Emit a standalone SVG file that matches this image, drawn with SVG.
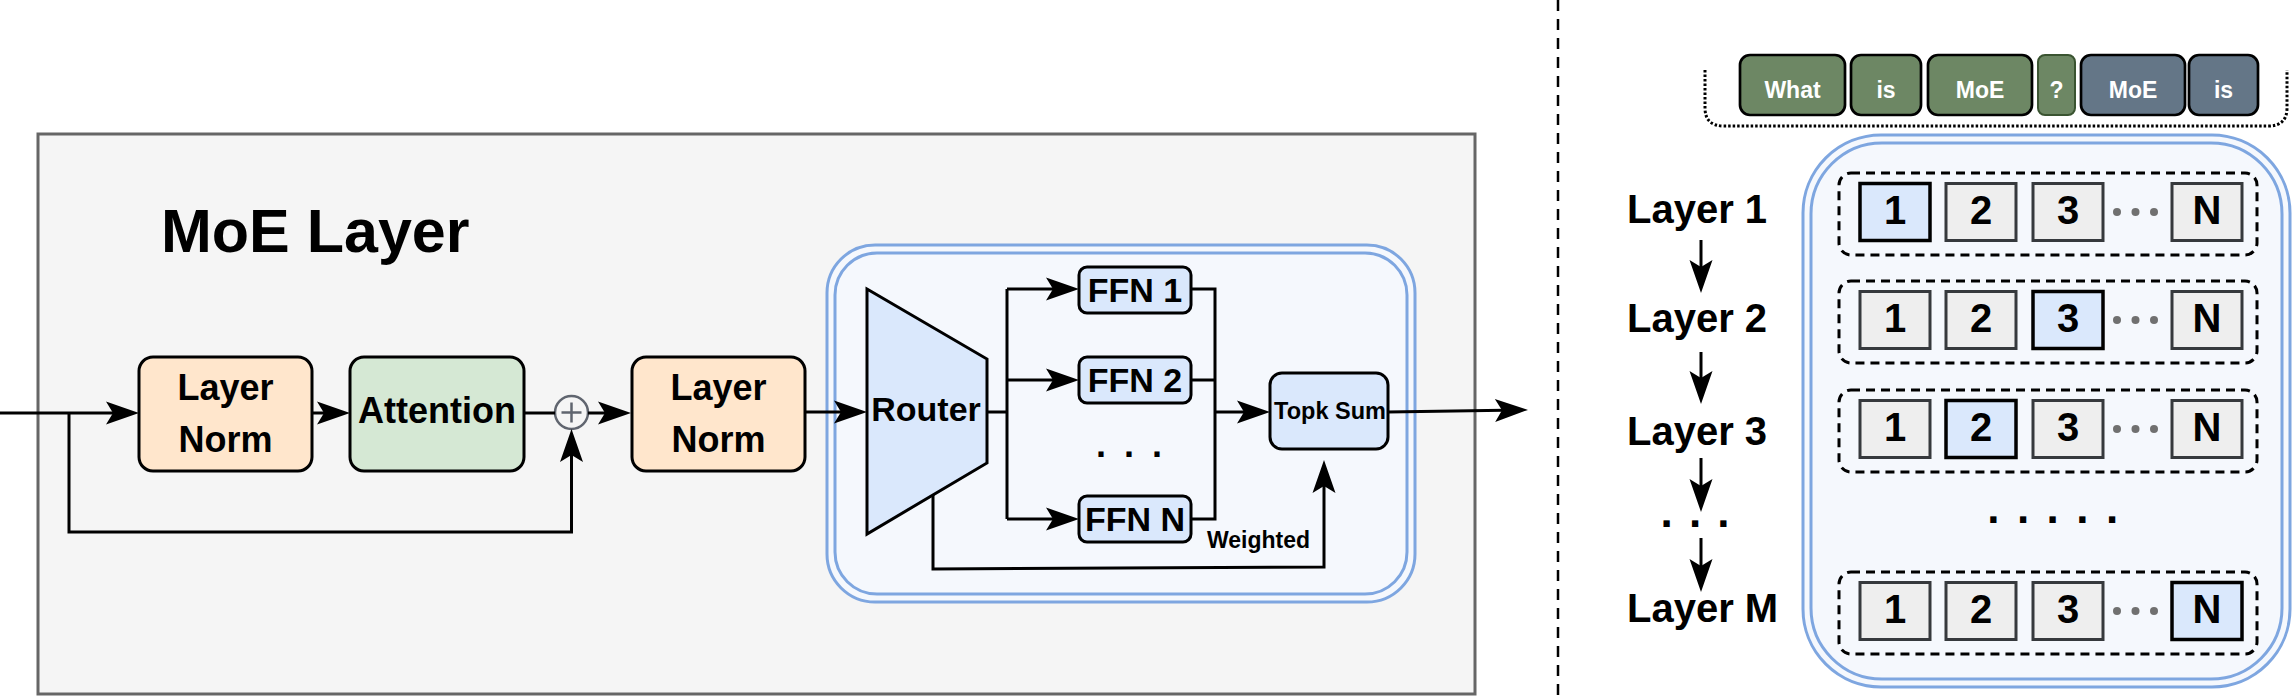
<svg xmlns="http://www.w3.org/2000/svg" width="2294" height="697" viewBox="0 0 2294 697">
<style>
text{font-family:"Liberation Sans",Arial,sans-serif;font-weight:bold;fill:#000}
.c{text-anchor:middle}
.box{stroke:#000;stroke-width:3}
.ln{fill:#ffe6cc}
.blue{fill:#dae8fc}
.wire{fill:none;stroke:#000;stroke-width:3}
.arr{marker-end:url(#ah)}
.dbl{fill:none;stroke:#7ea6e0;stroke-width:3}
.sq{fill:#eeeeee;stroke:#36393d;stroke-width:3}
.sqh{fill:#dae8fc;stroke:#000;stroke-width:3.5}
.row{fill:none;stroke:#000;stroke-width:3;stroke-dasharray:9 6}
.tok{stroke:#000;stroke-width:2.7}
.tt{fill:#fff;font-size:23px;text-anchor:middle}
.gd{fill:#707070}
.dig{font-size:40px;text-anchor:middle}
.lay{font-size:40px}
</style>
<defs>
<marker id="ah" markerUnits="userSpaceOnUse" markerWidth="34" markerHeight="24" refX="25" refY="11.5" orient="auto" overflow="visible">
<path d="M0,0 L33,11.5 L0,23 L7,11.5 Z" fill="#000"/>
</marker>
</defs>

<g id="moe-layer-frame">
<rect x="38" y="134" width="1437" height="560" fill="#f5f5f5" stroke="#666" stroke-width="3"/>
<text x="161" y="252" font-size="61">MoE Layer</text>
</g>

<g id="expert-container">
<rect x="827" y="245" width="588" height="357" rx="48" fill="#f5f8fd" stroke="none"/>
<rect class="dbl" x="827" y="245" width="588" height="357" rx="48"/>
<rect class="dbl" x="835" y="253" width="572" height="341" rx="42"/>
</g>

<g id="layernorm1">
<rect class="box ln" x="139" y="357" width="173" height="114" rx="14"/>
<text class="c" x="225.5" y="400" font-size="36">Layer</text>
<text class="c" x="225.5" y="452" font-size="36">Norm</text>
</g>

<g id="attention">
<rect class="box" fill="#d5e8d4" x="350" y="357" width="174" height="114" rx="14"/>
<text class="c" x="437" y="423" font-size="36">Attention</text>
</g>

<g id="add">
<circle cx="571.5" cy="412.5" r="16.5" fill="#f5f5f5" stroke="#60656f" stroke-width="2.5"/>
<path d="M571.5,402.5 V422.5 M561.5,412.5 H581.5" stroke="#60656f" stroke-width="2.5" fill="none"/>
</g>

<g id="layernorm2">
<rect class="box ln" x="632" y="357" width="173" height="114" rx="14"/>
<text class="c" x="718.5" y="400" font-size="36">Layer</text>
<text class="c" x="718.5" y="452" font-size="36">Norm</text>
</g>

<g id="router">
<path class="box blue" d="M867,289 L987,359 L987,463 L867,534 Z"/>
<text class="c" x="926" y="421" font-size="34">Router</text>
</g>

<g id="ffn1">
<rect class="box blue" x="1079" y="267" width="112" height="46" rx="8"/>
<text class="c" x="1135" y="302" font-size="34">FFN 1</text>
</g>
<g id="ffn2">
<rect class="box blue" x="1079" y="357" width="112" height="46" rx="8"/>
<text class="c" x="1135" y="392" font-size="34">FFN 2</text>
</g>
<g id="ffn-dots">
<text class="c" x="1131" y="457" font-size="36" letter-spacing="4">. . .</text>
</g>
<g id="ffnN">
<rect class="box blue" x="1079" y="496" width="112" height="46" rx="8"/>
<text class="c" x="1135" y="531" font-size="34">FFN N</text>
</g>

<g id="topk-sum">
<rect class="box blue" x="1270" y="373" width="118" height="76" rx="12"/>
<text class="c" x="1330" y="419" font-size="23.5">Topk Sum</text>
</g>

<g id="weighted-label">
<text x="1207" y="548" font-size="23">Weighted</text>
</g>

<g id="connectors">
<path class="wire arr" d="M0,413 H131"/>
<path class="wire arr" d="M69,413 V532 H571.5 V437"/>
<path class="wire arr" d="M312,413 H342"/>
<path class="wire" d="M524,413 H555"/>
<path class="wire arr" d="M588,413 H623"/>
<path class="wire arr" d="M805,412 H859"/>
<path class="wire" d="M987,412 H1007 M1007,289 V519"/>
<path class="wire arr" d="M1007,289 H1071"/>
<path class="wire arr" d="M1007,380 H1071"/>
<path class="wire arr" d="M1007,519 H1071"/>
<path class="wire" d="M1191,289 H1215 V519 H1191 M1191,380 H1215"/>
<path class="wire arr" d="M1215,412 H1262"/>
<path class="wire arr" d="M1388,412 L1520,410"/>
<path class="wire arr" d="M933,495 V569 L1324,567 V468"/>
</g>

<g id="separator">
<line x1="1558" y1="0" x2="1558" y2="697" stroke="#000" stroke-width="2.5" stroke-dasharray="11 8"/>
</g>

<g id="tokens">
<path d="M1705,70 V108 Q1705,126 1724,126 H2268 Q2287,126 2287,108 V70" fill="none" stroke="#000" stroke-width="3" stroke-dasharray="2.5 2"/>
<rect class="tok" fill="#6d8764" x="1740" y="55" width="105" height="60" rx="10"/>
<text class="tt" x="1792.5" y="98">What</text>
<rect class="tok" fill="#6d8764" x="1851" y="55" width="70" height="60" rx="10"/>
<text class="tt" x="1886" y="98">is</text>
<rect class="tok" fill="#6d8764" x="1928" y="55" width="104" height="60" rx="10"/>
<text class="tt" x="1980" y="98">MoE</text>
<rect fill="#6d8764" stroke="#3a5431" stroke-width="2" x="2038" y="55" width="37" height="60" rx="7"/>
<text class="tt" x="2056.5" y="98">?</text>
<rect class="tok" fill="#647687" x="2081" y="55" width="104" height="60" rx="10"/>
<text class="tt" x="2133" y="98">MoE</text>
<rect class="tok" fill="#647687" x="2189" y="55" width="69" height="60" rx="10"/>
<text class="tt" x="2223.5" y="98">is</text>
</g>

<g id="layer-container">
<rect x="1803" y="135" width="487" height="552" rx="78" fill="#f5f8fd" stroke="none"/>
<rect class="dbl" x="1803" y="135" width="487" height="552" rx="78"/>
<rect class="dbl" x="1811" y="143" width="471" height="536" rx="71"/>
</g>

<g id="row1">
<rect class="row" x="1839" y="173" width="418" height="82" rx="12"/>
<rect class="sqh" x="1860" y="183.5" width="70" height="57"/><text class="dig" x="1895" y="224">1</text>
<rect class="sq" x="1946" y="183.5" width="70" height="57"/><text class="dig" x="1981" y="224">2</text>
<rect class="sq" x="2033" y="183.5" width="70" height="57"/><text class="dig" x="2068" y="224">3</text>
<circle class="gd" cx="2117" cy="212" r="4"/><circle class="gd" cx="2135.5" cy="212" r="4"/><circle class="gd" cx="2154" cy="212" r="4"/>
<rect class="sq" x="2172" y="183.5" width="70" height="57"/><text class="dig" x="2207" y="224">N</text>
</g>

<g id="row2">
<rect class="row" x="1839" y="281" width="418" height="82" rx="12"/>
<rect class="sq" x="1860" y="291.5" width="70" height="57"/><text class="dig" x="1895" y="332">1</text>
<rect class="sq" x="1946" y="291.5" width="70" height="57"/><text class="dig" x="1981" y="332">2</text>
<rect class="sqh" x="2033" y="291.5" width="70" height="57"/><text class="dig" x="2068" y="332">3</text>
<circle class="gd" cx="2117" cy="320" r="4"/><circle class="gd" cx="2135.5" cy="320" r="4"/><circle class="gd" cx="2154" cy="320" r="4"/>
<rect class="sq" x="2172" y="291.5" width="70" height="57"/><text class="dig" x="2207" y="332">N</text>
</g>

<g id="row3">
<rect class="row" x="1839" y="390" width="418" height="82" rx="12"/>
<rect class="sq" x="1860" y="400.5" width="70" height="57"/><text class="dig" x="1895" y="441">1</text>
<rect class="sqh" x="1946" y="400.5" width="70" height="57"/><text class="dig" x="1981" y="441">2</text>
<rect class="sq" x="2033" y="400.5" width="70" height="57"/><text class="dig" x="2068" y="441">3</text>
<circle class="gd" cx="2117" cy="429" r="4"/><circle class="gd" cx="2135.5" cy="429" r="4"/><circle class="gd" cx="2154" cy="429" r="4"/>
<rect class="sq" x="2172" y="400.5" width="70" height="57"/><text class="dig" x="2207" y="441">N</text>
</g>

<g id="row-dots">
<text class="c" x="2054" y="523" font-size="44" letter-spacing="2.6">. . . . .</text>
</g>

<g id="rowM">
<rect class="row" x="1839" y="572" width="418" height="82" rx="12"/>
<rect class="sq" x="1860" y="582.5" width="70" height="57"/><text class="dig" x="1895" y="623">1</text>
<rect class="sq" x="1946" y="582.5" width="70" height="57"/><text class="dig" x="1981" y="623">2</text>
<rect class="sq" x="2033" y="582.5" width="70" height="57"/><text class="dig" x="2068" y="623">3</text>
<circle class="gd" cx="2117" cy="611" r="4"/><circle class="gd" cx="2135.5" cy="611" r="4"/><circle class="gd" cx="2154" cy="611" r="4"/>
<rect class="sqh" x="2172" y="582.5" width="70" height="57"/><text class="dig" x="2207" y="623">N</text>
</g>

<g id="layer-labels">
<text class="lay" x="1627" y="223">Layer 1</text>
<text class="lay" x="1627" y="332">Layer 2</text>
<text class="lay" x="1627" y="445">Layer 3</text>
<text class="c" x="1696" y="527" font-size="44" letter-spacing="2">. . .</text>
<text class="lay" x="1627" y="622">Layer M</text>
</g>

<g id="layer-arrows">
<path class="wire arr" d="M1701,240 V285"/>
<path class="wire arr" d="M1701,352 V396"/>
<path class="wire arr" d="M1701,458 V504"/>
<path class="wire arr" d="M1701,538 V584"/>
</g>
</svg>
